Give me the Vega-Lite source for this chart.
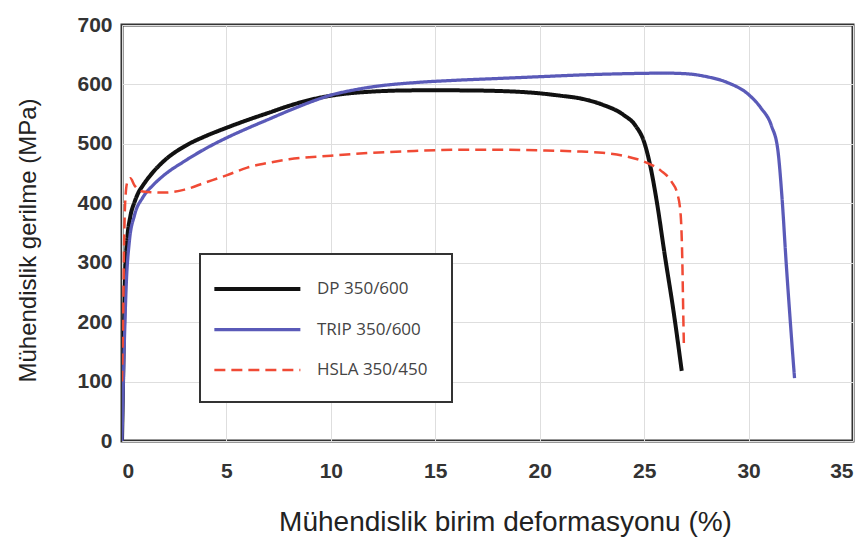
{
  "$schema": "https://vega.github.io/schema/vega-lite/v6.json",
  "width": 731,
  "height": 416,
  "autosize": "none",
  "padding": {"left": 122, "top": 25, "right": 12, "bottom": 98},
  "background": "white",
  "config": {
    "view": {"stroke": "#333", "strokeWidth": 3},
    "axis": {
      "grid": true,
      "gridColor": "#dedede",
      "gridWidth": 1,
      "domain": false,
      "ticks": false,
      "labelFont": "Liberation Sans",
      "labelFontWeight": "bold",
      "labelFontSize": 21,
      "labelColor": "#333",
      "titleFont": "Liberation Sans",
      "titleFontWeight": "normal",
      "titleColor": "#222"
    },
    "legend": {
      "strokeColor": "#333",
      "strokeWidth": 2,
      "fillColor": "white"
    }
  },
  "data": {
    "values": [
      {"s": "DP 350/600", "o": 0, "x": 0, "y": 0},
      {"s": "DP 350/600", "o": 1, "x": 0.05, "y": 100},
      {"s": "DP 350/600", "o": 2, "x": 0.1, "y": 200},
      {"s": "DP 350/600", "o": 3, "x": 0.15, "y": 280},
      {"s": "DP 350/600", "o": 4, "x": 0.25, "y": 340},
      {"s": "DP 350/600", "o": 5, "x": 0.4, "y": 378},
      {"s": "DP 350/600", "o": 6, "x": 0.6, "y": 402},
      {"s": "DP 350/600", "o": 7, "x": 0.8, "y": 419},
      {"s": "DP 350/600", "o": 8, "x": 1, "y": 430},
      {"s": "DP 350/600", "o": 9, "x": 1.5, "y": 453},
      {"s": "DP 350/600", "o": 10, "x": 2, "y": 471},
      {"s": "DP 350/600", "o": 11, "x": 3, "y": 496},
      {"s": "DP 350/600", "o": 12, "x": 4, "y": 513},
      {"s": "DP 350/600", "o": 13, "x": 5, "y": 527},
      {"s": "DP 350/600", "o": 14, "x": 6, "y": 540},
      {"s": "DP 350/600", "o": 15, "x": 7, "y": 552},
      {"s": "DP 350/600", "o": 16, "x": 8, "y": 564},
      {"s": "DP 350/600", "o": 17, "x": 9, "y": 574},
      {"s": "DP 350/600", "o": 18, "x": 10, "y": 581},
      {"s": "DP 350/600", "o": 19, "x": 12, "y": 588},
      {"s": "DP 350/600", "o": 20, "x": 14, "y": 590},
      {"s": "DP 350/600", "o": 21, "x": 16, "y": 590},
      {"s": "DP 350/600", "o": 22, "x": 18, "y": 589},
      {"s": "DP 350/600", "o": 23, "x": 20, "y": 585},
      {"s": "DP 350/600", "o": 24, "x": 21, "y": 581},
      {"s": "DP 350/600", "o": 25, "x": 22, "y": 576},
      {"s": "DP 350/600", "o": 26, "x": 23, "y": 566},
      {"s": "DP 350/600", "o": 27, "x": 24, "y": 549},
      {"s": "DP 350/600", "o": 28, "x": 24.6, "y": 530},
      {"s": "DP 350/600", "o": 29, "x": 25, "y": 503},
      {"s": "DP 350/600", "o": 30, "x": 25.3, "y": 462},
      {"s": "DP 350/600", "o": 31, "x": 25.6, "y": 404},
      {"s": "DP 350/600", "o": 32, "x": 26, "y": 310},
      {"s": "DP 350/600", "o": 33, "x": 26.4, "y": 220},
      {"s": "DP 350/600", "o": 34, "x": 26.8, "y": 118},

      {"s": "TRIP 350/600", "o": 0, "x": 0, "y": 0},
      {"s": "TRIP 350/600", "o": 1, "x": 0.1, "y": 150},
      {"s": "TRIP 350/600", "o": 2, "x": 0.2, "y": 260},
      {"s": "TRIP 350/600", "o": 3, "x": 0.35, "y": 335},
      {"s": "TRIP 350/600", "o": 4, "x": 0.6, "y": 380},
      {"s": "TRIP 350/600", "o": 5, "x": 1, "y": 410},
      {"s": "TRIP 350/600", "o": 6, "x": 1.5, "y": 431},
      {"s": "TRIP 350/600", "o": 7, "x": 2, "y": 447},
      {"s": "TRIP 350/600", "o": 8, "x": 3, "y": 471},
      {"s": "TRIP 350/600", "o": 9, "x": 4, "y": 492},
      {"s": "TRIP 350/600", "o": 10, "x": 5, "y": 510},
      {"s": "TRIP 350/600", "o": 11, "x": 6, "y": 526},
      {"s": "TRIP 350/600", "o": 12, "x": 7, "y": 541},
      {"s": "TRIP 350/600", "o": 13, "x": 8, "y": 556},
      {"s": "TRIP 350/600", "o": 14, "x": 9, "y": 570},
      {"s": "TRIP 350/600", "o": 15, "x": 10, "y": 582},
      {"s": "TRIP 350/600", "o": 16, "x": 11, "y": 590},
      {"s": "TRIP 350/600", "o": 17, "x": 12, "y": 596},
      {"s": "TRIP 350/600", "o": 18, "x": 14, "y": 603},
      {"s": "TRIP 350/600", "o": 19, "x": 16, "y": 607},
      {"s": "TRIP 350/600", "o": 20, "x": 18, "y": 610},
      {"s": "TRIP 350/600", "o": 21, "x": 20, "y": 613},
      {"s": "TRIP 350/600", "o": 22, "x": 22, "y": 616},
      {"s": "TRIP 350/600", "o": 23, "x": 24, "y": 618},
      {"s": "TRIP 350/600", "o": 24, "x": 26, "y": 619},
      {"s": "TRIP 350/600", "o": 25, "x": 27, "y": 618},
      {"s": "TRIP 350/600", "o": 26, "x": 28, "y": 613},
      {"s": "TRIP 350/600", "o": 27, "x": 29, "y": 603},
      {"s": "TRIP 350/600", "o": 28, "x": 30, "y": 583},
      {"s": "TRIP 350/600", "o": 29, "x": 30.6, "y": 560},
      {"s": "TRIP 350/600", "o": 30, "x": 31.1, "y": 530},
      {"s": "TRIP 350/600", "o": 31, "x": 31.4, "y": 490},
      {"s": "TRIP 350/600", "o": 32, "x": 31.6, "y": 410},
      {"s": "TRIP 350/600", "o": 33, "x": 31.8, "y": 300},
      {"s": "TRIP 350/600", "o": 34, "x": 32, "y": 200},
      {"s": "TRIP 350/600", "o": 35, "x": 32.2, "y": 106},

      {"s": "HSLA 350/450", "o": 0, "x": 0, "y": 100},
      {"s": "HSLA 350/450", "o": 1, "x": 0.05, "y": 200},
      {"s": "HSLA 350/450", "o": 2, "x": 0.1, "y": 330},
      {"s": "HSLA 350/450", "o": 3, "x": 0.15, "y": 400},
      {"s": "HSLA 350/450", "o": 4, "x": 0.25, "y": 435},
      {"s": "HSLA 350/450", "o": 5, "x": 0.4, "y": 442},
      {"s": "HSLA 350/450", "o": 6, "x": 0.6, "y": 430},
      {"s": "HSLA 350/450", "o": 7, "x": 1, "y": 420},
      {"s": "HSLA 350/450", "o": 8, "x": 2, "y": 418},
      {"s": "HSLA 350/450", "o": 9, "x": 3, "y": 423},
      {"s": "HSLA 350/450", "o": 10, "x": 4, "y": 435},
      {"s": "HSLA 350/450", "o": 11, "x": 5, "y": 447},
      {"s": "HSLA 350/450", "o": 12, "x": 6, "y": 460},
      {"s": "HSLA 350/450", "o": 13, "x": 7, "y": 468},
      {"s": "HSLA 350/450", "o": 14, "x": 8, "y": 474},
      {"s": "HSLA 350/450", "o": 15, "x": 10, "y": 480},
      {"s": "HSLA 350/450", "o": 16, "x": 12, "y": 485},
      {"s": "HSLA 350/450", "o": 17, "x": 14, "y": 488},
      {"s": "HSLA 350/450", "o": 18, "x": 16, "y": 490},
      {"s": "HSLA 350/450", "o": 19, "x": 18, "y": 490},
      {"s": "HSLA 350/450", "o": 20, "x": 20, "y": 489},
      {"s": "HSLA 350/450", "o": 21, "x": 22, "y": 487},
      {"s": "HSLA 350/450", "o": 22, "x": 23, "y": 485},
      {"s": "HSLA 350/450", "o": 23, "x": 24, "y": 480},
      {"s": "HSLA 350/450", "o": 24, "x": 25, "y": 470},
      {"s": "HSLA 350/450", "o": 25, "x": 25.8, "y": 455},
      {"s": "HSLA 350/450", "o": 26, "x": 26.3, "y": 437},
      {"s": "HSLA 350/450", "o": 27, "x": 26.6, "y": 415},
      {"s": "HSLA 350/450", "o": 28, "x": 26.75, "y": 380},
      {"s": "HSLA 350/450", "o": 29, "x": 26.83, "y": 300},
      {"s": "HSLA 350/450", "o": 30, "x": 26.87, "y": 220},
      {"s": "HSLA 350/450", "o": 31, "x": 26.9, "y": 165}
    ]
  },
  "mark": {"type": "line", "clip": true, "strokeCap": "butt", "strokeJoin": "round", "interpolate": "monotone"},
  "encoding": {
    "x": {
      "field": "x", "type": "quantitative",
      "scale": {"domain": [0, 35], "nice": false},
      "axis": {"values": [0, 5, 10, 15, 20, 25, 30, 35], "labelPadding": 19, "title": "Mühendislik birim deformasyonu (%)", "titleFontSize": 28, "titleX": 383, "titleY": 89, "titleBaseline": "alphabetic"}
    },
    "y": {
      "field": "y", "type": "quantitative",
      "scale": {"domain": [0, 700], "nice": false},
      "axis": {"values": [0, 100, 200, 300, 400, 500, 600, 700], "labelPadding": 10, "title": "Mühendislik gerilme (MPa)", "titleFontSize": 24, "titleX": -82, "titleY": 215}
    },
    "order": {"field": "o", "type": "quantitative"},
    "color": {
      "field": "s", "type": "nominal",
      "scale": {"domain": ["DP 350/600", "TRIP 350/600", "HSLA 350/450"], "range": ["#111111", "#5a5ab8", "#f04a35"]},
      "legend": {
        "title": null, "orient": "none", "legendX": 78, "legendY": 229,
        "symbolType": "M-2.4,0H7.6", "symbolSize": 296, "symbolStrokeWidth": 3.5,
        "labelFont": "Open Sans", "labelFontSize": 17, "labelColor": "#444",
        "labelOffset": 71, "rowPadding": 22, "padding": 24
      }
    },
    "strokeDash": {
      "field": "s", "type": "nominal",
      "scale": {"domain": ["DP 350/600", "TRIP 350/600", "HSLA 350/450"], "range": [[1, 0], [1, 0], [11, 6]]},
      "legend": null
    },
    "strokeWidth": {
      "field": "s", "type": "nominal",
      "scale": {"domain": ["DP 350/600", "TRIP 350/600", "HSLA 350/450"], "range": [4, 2.5, 3.5]},
      "legend": null
    }
  }
}
